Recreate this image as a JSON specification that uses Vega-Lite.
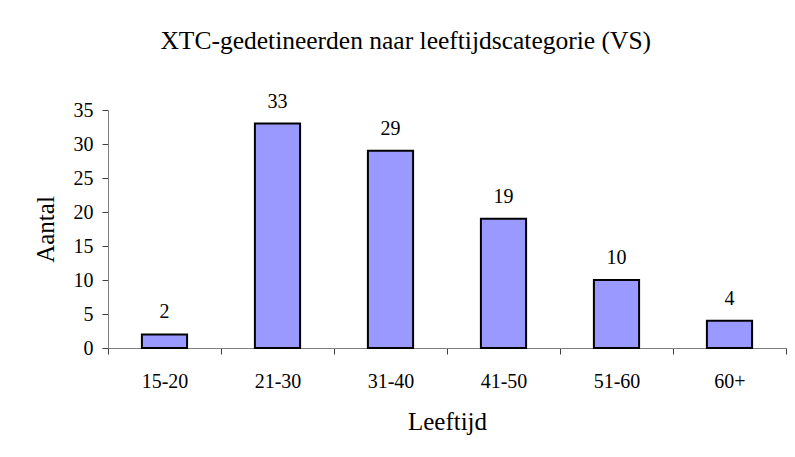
{
  "$schema": "https://vega.github.io/schema/vega-lite/v6.json",
  "width": 678,
  "height": 238,
  "autosize": {"type": "none"},
  "padding": {"left": 108, "top": 110, "right": 9, "bottom": 109},
  "background": "white",
  "config": {
    "view": {"stroke": null},
    "font": "Liberation Serif"
  },
  "title": {
    "text": "XTC-gedetineerden naar leeftijdscategorie (VS)",
    "font": "Liberation Serif",
    "fontSize": 25.5,
    "fontWeight": "normal",
    "color": "black",
    "anchor": "middle",
    "frame": "bounds",
    "baseline": "alphabetic",
    "offset": 17,
    "dx": -4
  },
  "data": {
    "values": [
      {"Leeftijd": "15-20", "Aantal": 2},
      {"Leeftijd": "21-30", "Aantal": 33},
      {"Leeftijd": "31-40", "Aantal": 29},
      {"Leeftijd": "41-50", "Aantal": 19},
      {"Leeftijd": "51-60", "Aantal": 10},
      {"Leeftijd": "60+", "Aantal": 4}
    ]
  },
  "encoding": {
    "x": {
      "field": "Leeftijd",
      "type": "nominal",
      "sort": null,
      "scale": {"paddingInner": 0, "paddingOuter": 0},
      "axis": {
        "title": "Leeftijd",
        "labelAngle": 0,
        "labelFont": "Liberation Serif",
        "labelFontSize": 20,
        "labelColor": "black",
        "labelPadding": 17,
        "tickBand": "extent",
        "tickSize": 6,
        "tickColor": "#404040",
        "domainColor": "#808080",
        "titleFont": "Liberation Serif",
        "titleFontSize": 25,
        "titleFontWeight": "normal",
        "titleColor": "black",
        "titlePadding": 18
      }
    },
    "y": {
      "field": "Aantal",
      "type": "quantitative",
      "scale": {"domain": [0, 35], "nice": false},
      "axis": {
        "title": "Aantal",
        "values": [0, 5, 10, 15, 20, 25, 30, 35],
        "grid": false,
        "labelFont": "Liberation Serif",
        "labelFontSize": 20,
        "labelColor": "black",
        "labelPadding": 9,
        "tickSize": 6,
        "tickColor": "#404040",
        "domainColor": "#808080",
        "titleFont": "Liberation Serif",
        "titleFontSize": 25,
        "titleFontWeight": "normal",
        "titleColor": "black",
        "titlePadding": 15
      }
    }
  },
  "layer": [
    {
      "mark": {"type": "bar", "color": "#9999FF", "stroke": "black", "strokeWidth": 2, "width": {"band": 0.4}}
    },
    {
      "mark": {"type": "text", "font": "Liberation Serif", "fontSize": 20, "color": "black", "baseline": "alphabetic", "dy": -16},
      "encoding": {"text": {"field": "Aantal", "type": "quantitative"}}
    }
  ]
}
